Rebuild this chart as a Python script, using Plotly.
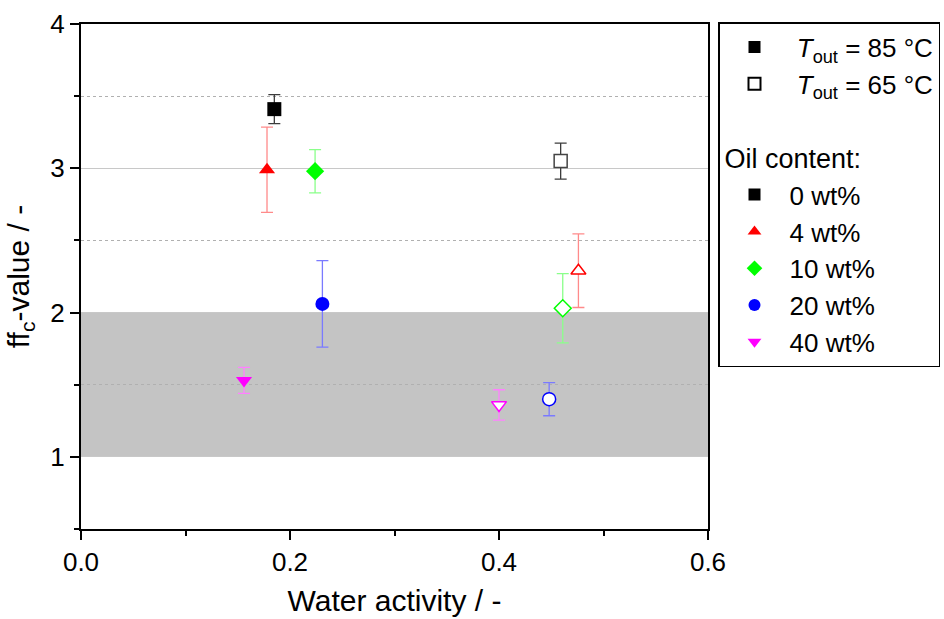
import plotly.graph_objects as go

# Data: (water activity, ffc, error)
oil_labels = ["0 wt%", "4 wt%", "10 wt%", "20 wt%", "40 wt%"]
colors = ["#000000", "#ff0000", "#00ff00", "#0000ff", "#ff00ff"]
err_colors = ["#3c3c3c", "#ff8a8a", "#8aff8a", "#7a7aff", "#ff80ff"]
symbols = ["square", "triangle-up", "diamond", "circle", "triangle-down"]

# T_out = 85 °C (filled)
aw_85 = [0.185, 0.178, 0.224, 0.231, 0.156]
ffc_85 = [3.41, 2.99, 2.98, 2.06, 1.53]
err_85 = [0.10, 0.295, 0.15, 0.30, 0.09]

# T_out = 65 °C (open)
aw_65 = [0.459, 0.476, 0.461, 0.448, 0.400]
ffc_65 = [3.05, 2.29, 2.03, 1.40, 1.36]
err_65 = [0.125, 0.255, 0.24, 0.115, 0.105]

FONT = "Liberation Sans, Arial, sans-serif"

fig = go.Figure()

for i in range(5):
    fig.add_trace(go.Scatter(
        x=[aw_85[i]], y=[ffc_85[i]], mode="markers", showlegend=False,
        marker=dict(symbol=symbols[i], color=colors[i], size=14,
                    line=dict(width=0)),
        error_y=dict(type="data", array=[err_85[i]], color=err_colors[i],
                     thickness=1.3, width=6)))
    fig.add_trace(go.Scatter(
        x=[aw_65[i]], y=[ffc_65[i]], mode="markers", showlegend=False,
        marker=dict(symbol=symbols[i], color="white", size=13,
                    line=dict(width=1.5, color=colors[i] if i else "#444444")),
        error_y=dict(type="data", array=[err_65[i]], color=err_colors[i],
                     thickness=1.3, width=6)))

# Legend entries
fig.add_trace(go.Scatter(x=[None], y=[None], mode="markers", legendgroup="t",
                         name=" <i>T</i><sub>out</sub> = 85 °C",
                         marker=dict(symbol="square", color="black", size=10)))
fig.add_trace(go.Scatter(x=[None], y=[None], mode="markers", legendgroup="t",
                         name=" <i>T</i><sub>out</sub> = 65 °C",
                         marker=dict(symbol="square", color="white", size=10,
                                     line=dict(width=1, color="black"))))
for i in range(5):
    fig.add_trace(go.Scatter(x=[None], y=[None], mode="markers", legendgroup="oil",
                             legendgrouptitle=dict(text="Oil content:", font=dict(size=27)),
                             name=oil_labels[i],
                             marker=dict(symbol=symbols[i], color=colors[i], size=12)))

fig.add_shape(type="rect", xref="x", yref="y", x0=0, x1=0.6, y0=1, y1=2,
              fillcolor="#c4c4c4", line=dict(width=0), layer="below")

fig.update_layout(
    width=944, height=619,
    margin=dict(l=81, r=236, t=24, b=90, autoexpand=False),
    paper_bgcolor="white", plot_bgcolor="white",
    font=dict(family=FONT, size=26, color="black"),
    legend=dict(xref="container", yref="container",
                x=718 / 944, xanchor="left", y=1 - 22 / 619, yanchor="top",
                bordercolor="black", borderwidth=1.5, maxheight=600,
                font=dict(size=26), tracegroupgap=36, itemwidth=60,
                traceorder="grouped", itemsizing="constant"),
)

fig.update_xaxes(
    range=[0, 0.6], tickvals=[0, 0.2, 0.4, 0.6], tickformat=".1f",
    ticks="outside", ticklen=9, tickwidth=2, tickcolor="black",
    showline=True, linecolor="black", linewidth=2, mirror=True,
    showgrid=False, zeroline=False,
    minor=dict(dtick=0.1, tick0=0, ticks="outside", ticklen=5, tickwidth=2, tickcolor="black"),
    title=dict(text="Water activity / -", font=dict(size=30), standoff=14),
    tickfont=dict(size=26),
)
fig.update_yaxes(
    range=[0.5, 4], tickvals=[1, 2, 3, 4],
    ticks="outside", ticklen=9, tickwidth=2, tickcolor="black",
    showline=True, linecolor="black", linewidth=2, mirror=True,
    showgrid=True, gridcolor="#c8c8c8", gridwidth=1, zeroline=False,
    minor=dict(dtick=0.5, tick0=0, ticks="outside", ticklen=5, tickwidth=2,
               tickcolor="black", showgrid=True, gridcolor="#b0b0b0",
               griddash="dot", gridwidth=1),
    title=dict(text="ff<sub>c</sub>-value / -", font=dict(size=30), standoff=12),
    tickfont=dict(size=26),
)

fig.write_html("out.html")
